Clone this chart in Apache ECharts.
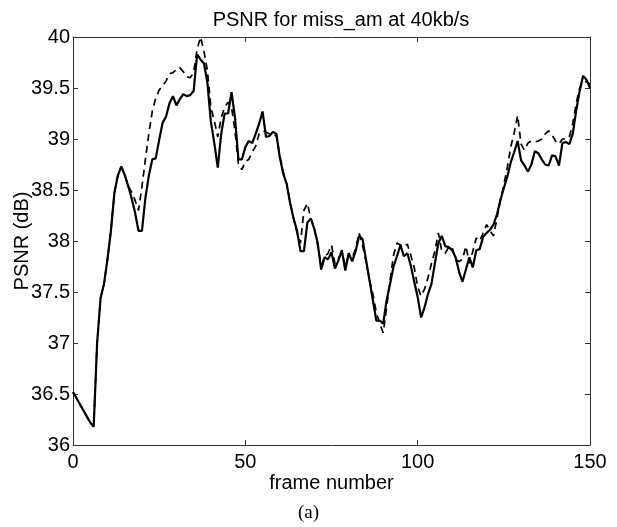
<!DOCTYPE html>
<html>
<head>
<meta charset="utf-8">
<script src="https://cdn.jsdelivr.net/npm/echarts@6/dist/echarts.min.js"></script>
<style>html,body{margin:0;padding:0;background:#fff}#c{width:617px;height:527px}</style>
</head>
<body>
<div id="c"></div>
<script>
const titleText = 'PSNR for miss_am at 40kb/s';
const xName = 'frame number';
const yName = 'PSNR (dB)';
const caption = '(a)';
const xTicks = [0, 50, 100, 150];
const yTicks = [36, 36.5, 37, 37.5, 38, 38.5, 39, 39.5, 40];

const solid = [
36.52,36.46,36.40,36.34,36.28,36.22,36.18,37.00,37.44,37.58,
37.82,38.10,38.47,38.64,38.73,38.65,38.54,38.42,38.28,38.10,
38.10,38.42,38.64,38.80,38.81,38.99,39.16,39.22,39.35,39.42,
39.33,39.39,39.44,39.42,39.43,39.47,39.83,39.78,39.74,39.55,
39.17,38.96,38.72,39.05,39.25,39.25,39.46,39.21,38.80,38.80,
38.92,38.98,38.96,39.05,39.15,39.27,39.02,39.03,39.07,39.05,
38.82,38.66,38.56,38.37,38.22,38.10,37.90,37.90,38.18,38.22,
38.12,37.98,37.72,37.84,37.82,37.89,37.73,37.81,37.91,37.71,
37.88,37.80,37.90,38.05,38.02,37.82,37.62,37.42,37.22,37.22,
37.19,37.42,37.58,37.75,37.85,37.96,37.85,37.88,37.76,37.60,
37.45,37.25,37.35,37.48,37.58,37.78,37.98,38.05,37.95,37.94,
37.91,37.84,37.70,37.60,37.72,37.84,37.74,37.91,37.92,38.04,
38.08,38.11,38.16,38.26,38.40,38.52,38.63,38.77,38.87,38.98,
38.79,38.74,38.68,38.75,38.88,38.86,38.80,38.75,38.74,38.84,
38.83,38.74,38.96,38.97,38.95,39.05,39.28,39.47,39.62,39.58,
39.50
];

const dashed = [
36.52,36.46,36.40,36.34,36.28,36.22,36.18,37.00,37.44,37.58,
37.82,38.10,38.47,38.64,38.73,38.65,38.54,38.48,38.40,38.30,
38.53,38.80,39.05,39.27,39.40,39.48,39.52,39.57,39.64,39.65,
39.68,39.70,39.66,39.61,39.60,39.65,39.88,40.00,39.86,39.67,
39.31,39.18,39.02,39.21,39.31,39.36,39.31,39.08,38.75,38.70,
38.78,38.80,38.87,38.93,39.05,39.08,39.07,39.05,39.05,39.03,
38.84,38.68,38.56,38.38,38.22,38.08,37.98,38.30,38.37,38.22,
38.12,37.96,37.76,37.84,37.88,37.96,37.78,37.83,37.88,37.76,
37.86,37.84,37.92,38.08,37.96,37.80,37.62,37.48,37.30,37.19,
37.10,37.35,37.62,37.86,37.98,37.96,37.94,37.97,37.86,37.74,
37.55,37.46,37.53,37.64,37.78,37.90,38.08,37.90,37.88,37.94,
37.94,37.82,37.80,37.82,37.95,37.78,37.90,38.03,38.00,38.08,
38.16,38.10,38.05,38.22,38.40,38.55,38.72,38.92,39.06,39.23,
38.95,38.89,38.96,38.98,38.97,38.98,39.00,39.05,39.08,39.04,
38.98,38.95,39.00,39.00,39.02,39.15,39.35,39.50,39.57,39.56,
39.54
];

const frames = solid.map((_, i) => i);
const font = '"Liberation Sans", Arial, sans-serif';
const axisColor = '#333';
const fs = 20;

const chart = echarts.init(document.getElementById('c'), null, {renderer: 'canvas'});
const xMin = xTicks[0], xMax = xTicks[xTicks.length - 1];
const yMin = yTicks[0], yMax = yTicks[yTicks.length - 1];
const baseAxis = {
  axisLine: {show: true, onZero: false, lineStyle: {color: axisColor, width: 1}},
  axisTick: {show: true, inside: true, length: 5, lineStyle: {color: axisColor}},
  splitLine: {show: false}
};
chart.setOption({
  animation: false,
  backgroundColor: '#fff',
  title: {
    text: titleText, left: 336, top: 5, textAlign: 'center',
    textStyle: {fontFamily: font, fontSize: fs, fontWeight: 'normal', color: '#000'}
  },
  grid: {left: 73, right: 27, top: 37, bottom: 82, containLabel: false, outerBoundsMode: 'none'},
  xAxis: [
    Object.assign({}, baseAxis, {
      type: 'value', min: xMin, max: xMax, interval: 50, position: 'bottom',
      name: xName, nameLocation: 'middle', nameGap: 28, nameMoveOverlap: false,
      nameTextStyle: {fontFamily: font, fontSize: fs, color: '#000'},
      axisLabel: {fontFamily: font, fontSize: fs, color: '#000', margin: 7}
    }),
    Object.assign({}, baseAxis, {
      type: 'value', min: xMin, max: xMax, interval: 50, position: 'top',
      axisLabel: {show: false}
    })
  ],
  yAxis: [
    Object.assign({}, baseAxis, {
      type: 'value', min: yMin, max: yMax, interval: 0.5, position: 'left',
      name: yName, nameLocation: 'middle', nameGap: 41, nameMoveOverlap: false,
      nameTextStyle: {fontFamily: font, fontSize: fs, color: '#000'},
      axisLabel: {fontFamily: font, fontSize: fs, color: '#000', margin: 3}
    }),
    Object.assign({}, baseAxis, {
      type: 'value', min: yMin, max: yMax, interval: 0.5, position: 'right',
      axisLabel: {show: false}
    })
  ],
  graphic: [{
    type: 'text', left: 'center', top: 504,
    style: {text: caption, fontFamily: '"Liberation Serif", "Times New Roman", serif', fontSize: 19, fill: '#000'}
  }],
  series: [
    {
      type: 'line', name: 'solid', data: frames.map(i => [i, solid[i]]),
      showSymbol: false, symbol: 'none', smooth: false,
      lineStyle: {color: '#000', width: 2.2, type: 'solid'}, z: 3
    },
    {
      type: 'line', name: 'dashed', data: frames.map(i => [i, dashed[i]]),
      showSymbol: false, symbol: 'none', smooth: false,
      lineStyle: {color: '#000', width: 1.7, type: [7, 5]}, z: 2
    }
  ]
});
</script>
</body>
</html>
